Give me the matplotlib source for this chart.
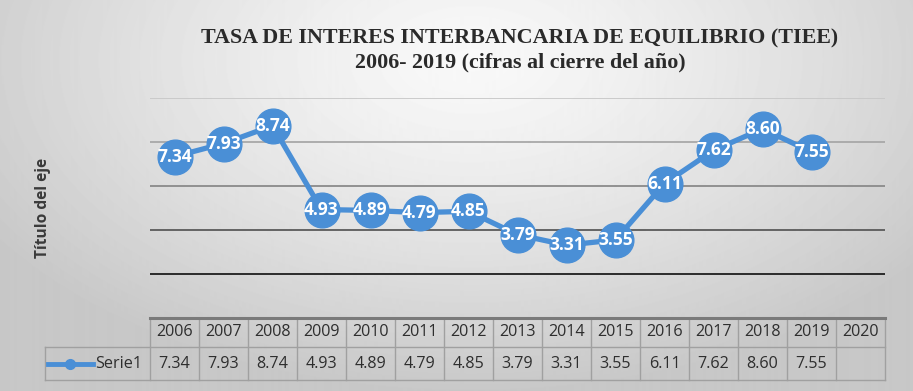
import matplotlib.pyplot as plt
import matplotlib.transforms as mtransforms
import numpy as np

years = ['2006', '2007', '2008', '2009', '2010', '2011', '2012', '2013',
         '2014', '2015', '2016', '2017', '2018', '2019', '2020']
tiee = [7.34, 7.93, 8.74, 4.93, 4.89, 4.79, 4.85, 3.79, 3.31, 3.55,
        6.11, 7.62, 8.60, 7.55]
grid_levels = [2, 4, 6, 8, 10]
grid_colors = ['#1e1e1e', '#5a5a5a', '#8a8a8a', '#a8a8a8', '#c8c8c8']
series_name = 'Serie1'
title1 = 'TASA DE INTERES INTERBANCARIA DE EQUILIBRIO (TIEE)'
title2 = '2006- 2019 (cifras al cierre del año)'
ylabel = 'Título del eje'

BLUE = '#4a8fd6'
TXT = '#2e2e2e'
W, H = 913, 391

fig = plt.figure(figsize=(W / 100, H / 100), dpi=100)

# background: soft radial gradient, light at the top centre
bg = fig.add_axes([0, 0, 1, 1], zorder=-10)
yy, xx = np.mgrid[0:H, 0:W]
r = np.sqrt(((xx - 470) / 560.0) ** 2 + ((yy - 60) / 330.0) ** 2)
r = np.clip(r, 0, 1)
shade = 0.975 - 0.19 * r ** 1.3
bg.imshow(shade, cmap='gray', vmin=0, vmax=1, aspect='auto',
          extent=[0, 1, 0, 1], origin='upper')
bg.axis('off')

# plot area in pixel terms
x0, x1 = 150, 885
ytop, ybot = 98, 318
ax = fig.add_axes([x0 / W, (H - ybot) / H, (x1 - x0) / W, (ybot - ytop) / H])
ax.set_facecolor('none')
n = len(years)
ax.set_xlim(-0.5, n - 0.5)
ax.set_ylim(0, 10)
for s in ax.spines.values():
    s.set_visible(False)
ax.set_xticks([])
ax.set_yticks([])

for lv, c in zip(grid_levels, grid_colors):
    ax.axhline(lv, color=c, lw=1.3, zorder=1)

xs = np.arange(len(tiee))
ax.plot(xs, tiee, color=BLUE, lw=3.8, marker='o', ms=25,
        markerfacecolor=BLUE, markeredgecolor=BLUE, zorder=3, clip_on=False)
for x, v in zip(xs, tiee):
    ax.text(x, v, f'{v:.2f}', ha='center', va='center', color='white',
            fontsize=12.5, fontweight='bold', family='Open Sans', zorder=4)

# title, two lines
fig.text(520 / W, 1 - 38 / H, title1, ha='center', va='center',
         fontsize=15.8, fontweight='bold', family='Liberation Serif',
         color='#2a2a2a')
fig.text(520 / W, 1 - 62 / H, title2, ha='center', va='center',
         fontsize=15.8, fontweight='bold', family='Liberation Serif',
         color='#2a2a2a')

# axis title
fig.text(43 / W, 1 - 208 / H, ylabel, rotation=90, ha='center', va='center',
         fontsize=11.2, fontweight='bold', family='Open Sans', color='#3a3a3a')

# data table under the plot
tr = mtransforms.blended_transform_factory(ax.transData, ax.transAxes)
hpx = ybot - ytop
row1 = -29 / hpx
row2 = -62 / hpx
line_c = '#a0a0a0'
ax.plot([-0.5, n - 0.5], [0, 0], transform=tr, color='#7a7a7a', lw=2.2,
        clip_on=False, zorder=5)
for i in range(n + 1):
    ax.plot([i - 0.5, i - 0.5], [0, row2], transform=tr, color=line_c,
            lw=1, clip_on=False)
leg_left = -0.5 - 105 / 49
ax.plot([leg_left, n - 0.5], [row1, row1], transform=tr, color=line_c,
        lw=1, clip_on=False)
ax.plot([leg_left, n - 0.5], [row2, row2], transform=tr, color=line_c,
        lw=1, clip_on=False)
ax.plot([leg_left, leg_left], [row1, row2], transform=tr, color=line_c,
        lw=1, clip_on=False)

for i, yr in enumerate(years):
    ax.text(i, row1 / 2, yr, transform=tr, ha='center', va='center',
            fontsize=11.6, family='Open Sans', color=TXT)
for i, v in enumerate(tiee):
    ax.text(i, (row1 + row2) / 2, f'{v:.2f}', transform=tr, ha='center',
            va='center', fontsize=11.6, family='Open Sans', color=TXT)

# legend key in the row label cell
ym = (row1 + row2) / 2
ax.plot([leg_left + 0.06, leg_left + 0.98], [ym, ym], transform=tr,
        color=BLUE, lw=3.5, clip_on=False)
ax.plot([leg_left + 0.51], [ym], transform=tr, marker='o', ms=7,
        color=BLUE, clip_on=False)
ax.text(-0.66, ym, series_name, transform=tr, ha='right', va='center',
        fontsize=11.6, family='Open Sans', color=TXT)

fig.savefig('out.png', dpi=100)
